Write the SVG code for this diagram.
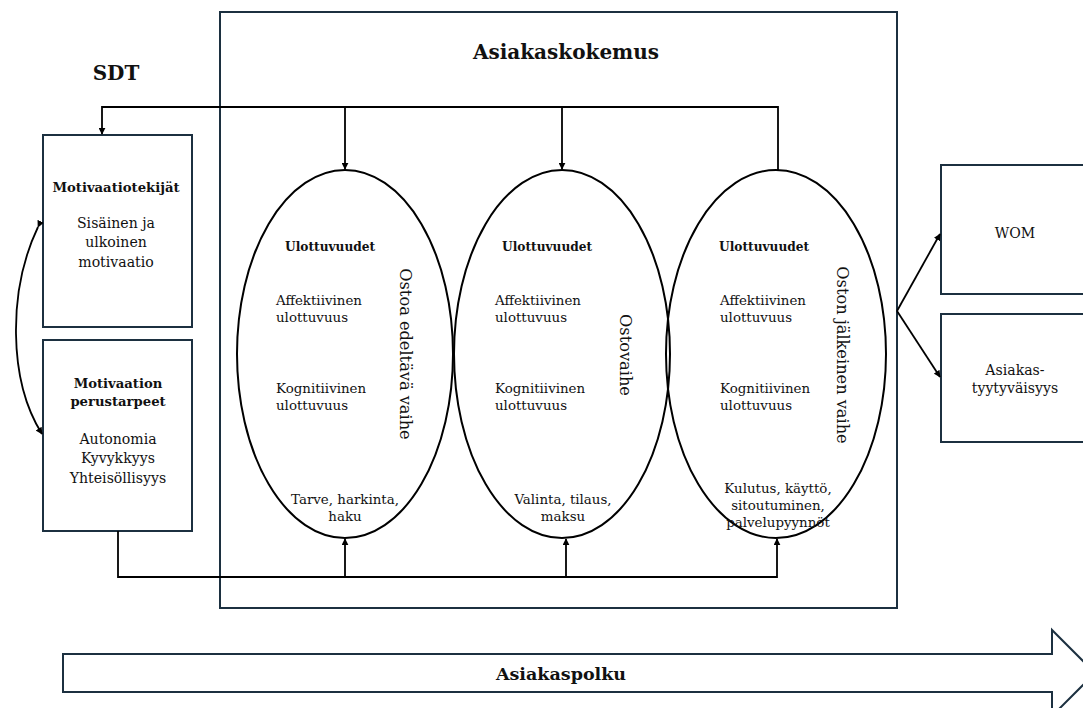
<svg xmlns="http://www.w3.org/2000/svg" width="1083" height="708" viewBox="0 0 1083 708">
<style>
.box{fill:#fff;stroke:#1c3040;stroke-width:2}
.ell{fill:none;stroke:#000;stroke-width:2}
.con{fill:none;stroke:#000;stroke-width:1.8}
text{font-family:"DejaVu Serif","Liberation Serif",serif;fill:#111}
.t{font-size:13.4px}
.u{font-size:12.2px;font-weight:bold}
.s{font-size:14.1px}
.sb{font-size:13.2px;font-weight:bold}
.c{text-anchor:middle}
.big{font-size:20px;font-weight:bold}
.v{font-size:16.2px}
</style>
<defs>
<marker id="ah" viewBox="0 0 10 10" refX="9" refY="5" markerWidth="7" markerHeight="7" orient="auto" markerUnits="userSpaceOnUse">
<path d="M0,0 L10,5 L0,10 z" fill="#000"/>
</marker>
</defs>
<rect width="1083" height="708" fill="#fff"/>

<g id="asiakaskokemus">
<rect class="box" x="220" y="12" width="677" height="596"/>
<text class="big c" x="566" y="59">Asiakaskokemus</text>
</g>

<text id="sdt" class="big c" x="116" y="80">SDT</text>

<g id="motivaatiotekijat">
<rect class="box" x="43" y="135" width="149" height="192"/>
<text class="sb c" x="116" y="192">Motivaatiotekijät</text>
<text class="s c" x="116" y="228">Sisäinen ja</text>
<text class="s c" x="116" y="247">ulkoinen</text>
<text class="s c" x="116" y="267">motivaatio</text>
</g>

<g id="perustarpeet">
<rect class="box" x="43" y="340" width="149" height="191"/>
<text class="sb c" x="118" y="388">Motivaation</text>
<text class="sb c" x="118" y="406">perustarpeet</text>
<text class="s c" x="118" y="444">Autonomia</text>
<text class="s c" x="118" y="463">Kyvykkyys</text>
<text class="s c" x="118" y="483">Yhteisöllisyys</text>
</g>

<g id="wom">
<rect class="box" x="941" y="165" width="150" height="129"/>
<text class="s c" x="1015" y="238">WOM</text>
</g>

<g id="tyytyvaisyys">
<rect class="box" x="941" y="314" width="150" height="128"/>
<text class="s c" x="1015" y="375">Asiakas-</text>
<text class="s c" x="1015" y="393">tyytyväisyys</text>
</g>

<g id="vaihe1">
<ellipse class="ell" cx="345" cy="354" rx="108" ry="184"/>
<text class="u" x="285" y="251">Ulottuvuudet</text>
<text class="t" x="276" y="305">Affektiivinen</text>
<text class="t" x="276" y="322">ulottuvuus</text>
<text class="t" x="276" y="393">Kognitiivinen</text>
<text class="t" x="276" y="410">ulottuvuus</text>
<text class="t c" x="345" y="504">Tarve, harkinta,</text>
<text class="t c" x="345" y="521">haku</text>
<text class="v c" transform="translate(400,354) rotate(90)">Ostoa edeltävä vaihe</text>
</g>

<g id="vaihe2">
<ellipse class="ell" cx="562" cy="354" rx="108" ry="184"/>
<text class="u" x="502" y="251">Ulottuvuudet</text>
<text class="t" x="495" y="305">Affektiivinen</text>
<text class="t" x="495" y="322">ulottuvuus</text>
<text class="t" x="495" y="393">Kognitiivinen</text>
<text class="t" x="495" y="410">ulottuvuus</text>
<text class="t c" x="563" y="504">Valinta, tilaus,</text>
<text class="t c" x="563" y="521">maksu</text>
<text class="v c" transform="translate(620,355) rotate(90)">Ostovaihe</text>
</g>

<g id="vaihe3">
<ellipse class="ell" cx="776" cy="354" rx="110" ry="184"/>
<text class="u" x="719" y="251">Ulottuvuudet</text>
<text class="t" x="720" y="305">Affektiivinen</text>
<text class="t" x="720" y="322">ulottuvuus</text>
<text class="t" x="720" y="393">Kognitiivinen</text>
<text class="t" x="720" y="410">ulottuvuus</text>
<text class="t c" x="778" y="493">Kulutus, käyttö,</text>
<text class="t c" x="778" y="510">sitoutuminen,</text>
<text class="t c" x="778" y="527">palvelupyynnöt</text>
<text class="v c" transform="translate(837,355) rotate(90)">Oston jälkeinen vaihe</text>
</g>

<g id="connectors">
<path class="con" d="M778,170 V107 H102 V134" marker-end="url(#ah)"/>
<path class="con" d="M345,107 V169" marker-end="url(#ah)"/>
<path class="con" d="M562,107 V169" marker-end="url(#ah)"/>
<path class="con" d="M118,531 V577 H777 V539" marker-end="url(#ah)"/>
<path class="con" d="M345,577 V539" marker-end="url(#ah)"/>
<path class="con" d="M566,577 V539" marker-end="url(#ah)"/>
<path class="con" d="M897,311 L940,234" marker-end="url(#ah)"/>
<path class="con" d="M897,311 L940,377" marker-end="url(#ah)"/>
<path class="con" d="M38,227 C8,290 8,380 42,434" marker-start="url(#ah)" marker-end="url(#ah)"/>
</g>

<g id="asiakaspolku">
<path class="box" d="M63,654 H1052 V630 L1095,673 L1052,716 V692 H63 Z"/>
<text class="big c" x="561" y="680" style="font-size:17.5px">Asiakaspolku</text>
</g>
</svg>
